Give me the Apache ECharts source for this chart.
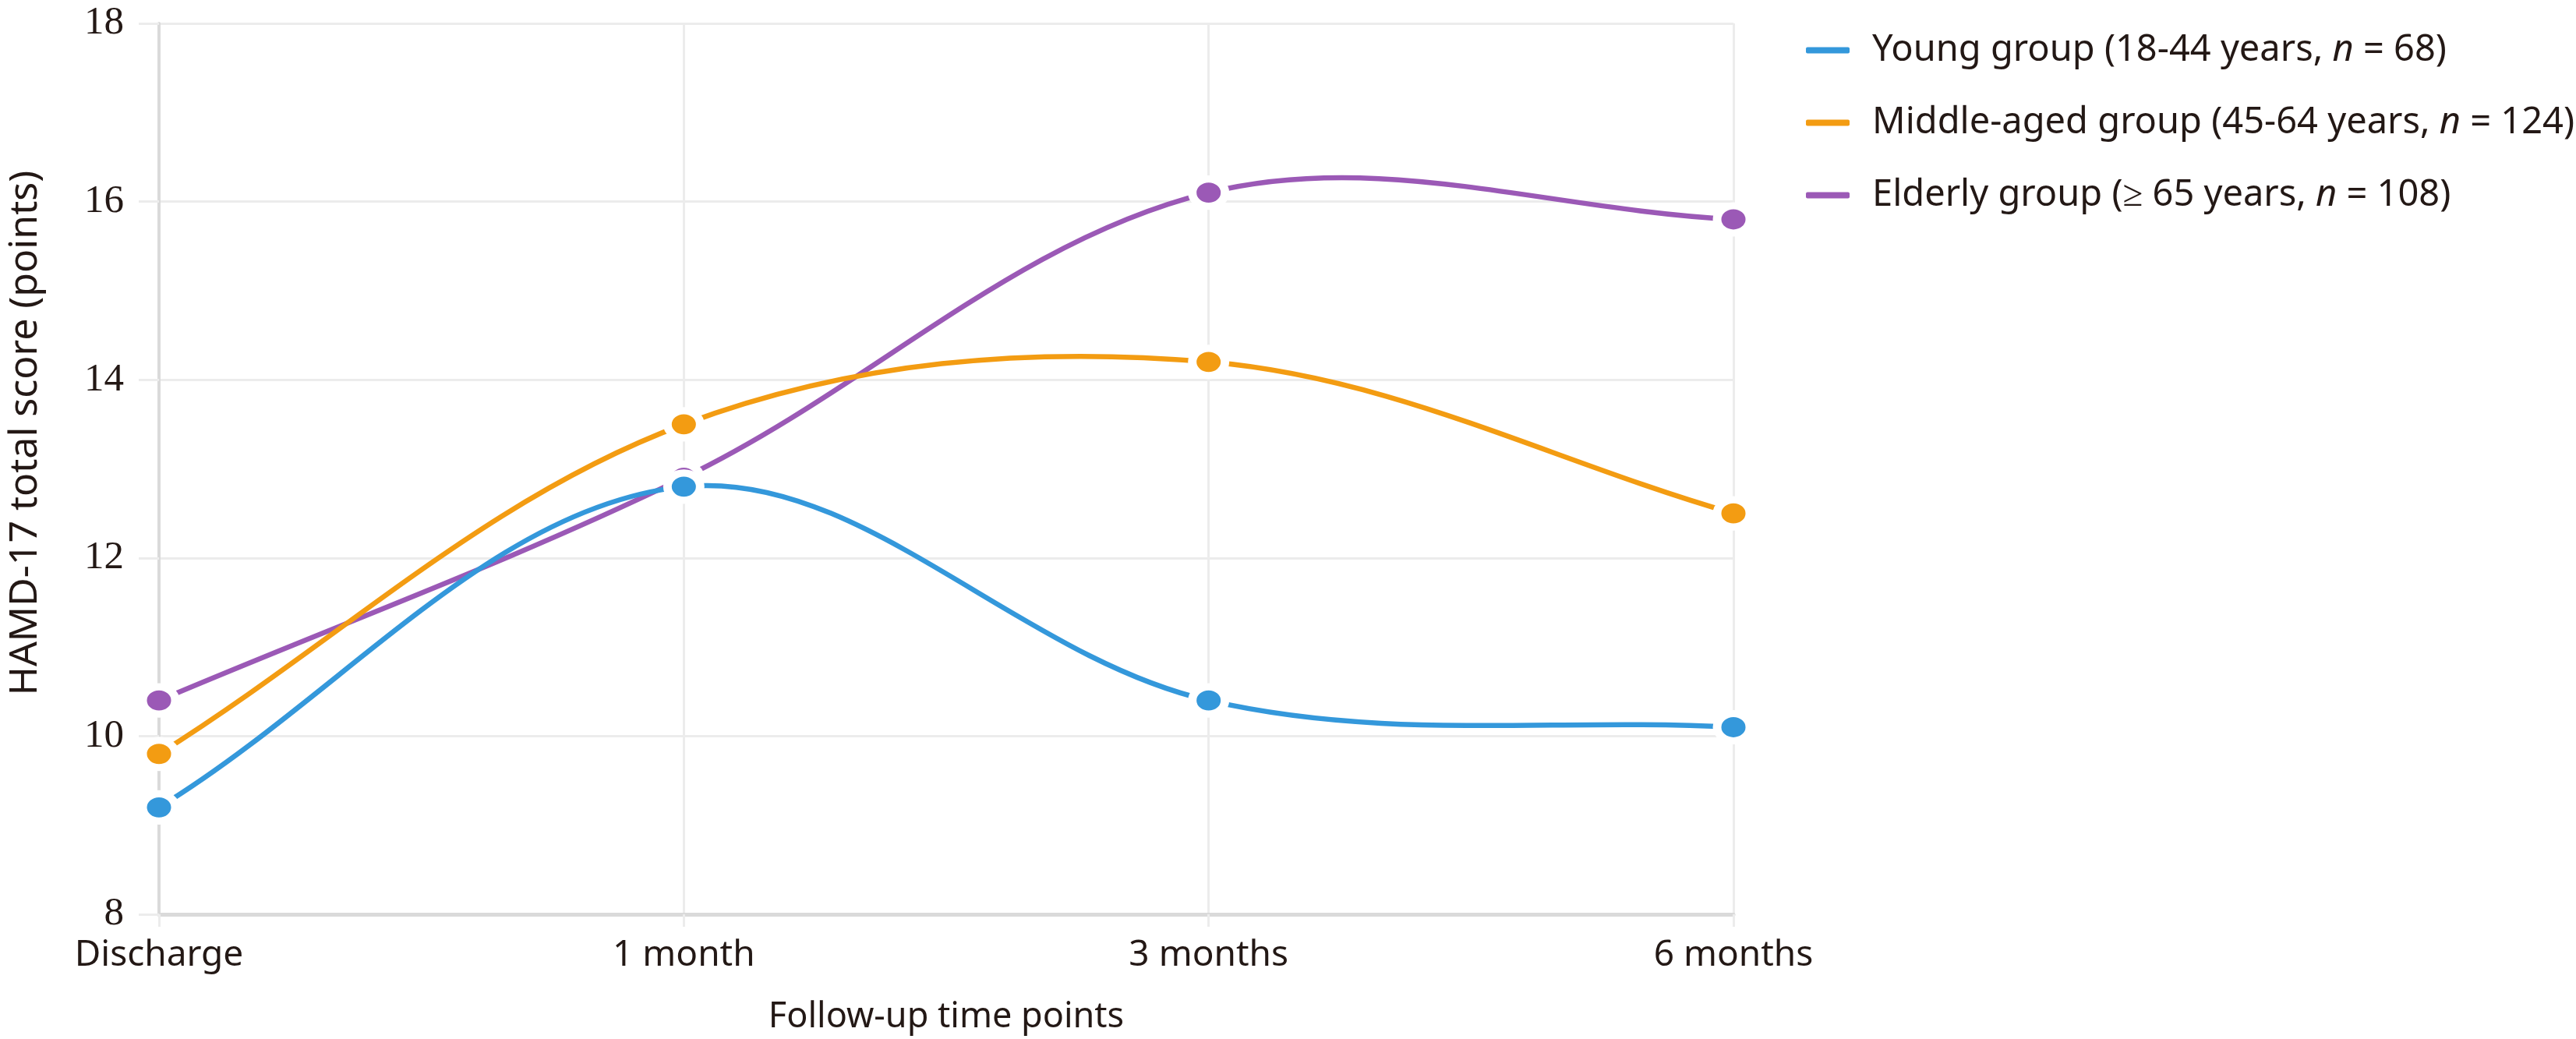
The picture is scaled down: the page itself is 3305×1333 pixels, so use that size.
<!DOCTYPE html>
<html>
<head>
<meta charset="utf-8">
<script src="https://cdn.jsdelivr.net/npm/echarts@6/dist/echarts.min.js"></script>
<style>
  html, body { margin: 0; padding: 0; background: #fff; }
  #chart { width: 3305px; height: 1333px; }
</style>
</head>
<body>
<div id="chart"></div>
<script>
var timePoints = ['Discharge', '1 month', '3 months', '6 months']
var yTicks = [8, 10, 12, 14, 16, 18]

var youngScores = [9.2, 12.8, 10.4, 10.1]
var middleScores = [9.8, 13.5, 14.2, 12.5]
var elderlyScores = [10.4, 12.9, 16.1, 15.8]

var groupNames = ['Young group', 'Middle-aged group', 'Elderly group']
var groupAges = ['18-44 years', '45-64 years', '≥ 65 years']
var groupSizes = [68, 124, 108]
var groupColors = ['#3498db', '#f39c12', '#9b59b6']
var groupScores = [youngScores, middleScores, elderlyScores]

var font = 'Noto Sans'
var tickFont = 'Liberation Serif'
var textColor = '#231815'
var gridColor = '#ececec'
var axisColor = '#dadada'
var tension = 0.35

var chart = echarts.init(document.getElementById('chart'))

// cardinal-style control points around p1 (same idea as chart.js splineCurve)
function controlPoints(p0, p1, p2) {
  var d01 = Math.hypot(p1[0] - p0[0], p1[1] - p0[1])
  var d12 = Math.hypot(p2[0] - p1[0], p2[1] - p1[1])
  var s01 = d01 / (d01 + d12) || 0
  var s12 = d12 / (d01 + d12) || 0
  var fa = tension * s01
  var fb = tension * s12
  return {
    prev: [p1[0] - fa * (p2[0] - p0[0]), p1[1] - fa * (p2[1] - p0[1])],
    next: [p1[0] + fb * (p2[0] - p0[0]), p1[1] + fb * (p2[1] - p0[1])]
  }
}

function curveSeries(i) {
  var values = groupScores[i]
  return {
    name: groupNames[i],
    type: 'custom',
    silent: true,
    z: 2,
    itemStyle: { color: groupColors[i] },
    data: values.map(function (v, k) { return [k, v] }),
    encode: { x: 0, y: 1 },
    renderItem: function (params, api) {
      var k = params.dataIndex
      if (k >= values.length - 1) return null
      var pt = function (j) {
        j = Math.max(0, Math.min(values.length - 1, j))
        return api.coord([j, values[j]])
      }
      var p0 = pt(k - 1), p1 = pt(k), p2 = pt(k + 1), p3 = pt(k + 2)
      var c1 = controlPoints(p0, p1, p2).next
      var c2 = controlPoints(p1, p2, p3).prev
      return {
        type: 'bezierCurve',
        shape: {
          x1: p1[0], y1: p1[1],
          cpx1: c1[0], cpy1: c1[1],
          cpx2: c2[0], cpy2: c2[1],
          x2: p2[0], y2: p2[1]
        },
        style: { stroke: groupColors[i], lineWidth: 6.5, fill: null, lineCap: 'round' }
      }
    }
  }
}

function pointSeries(i) {
  return {
    name: groupNames[i],
    type: 'line',
    data: groupScores[i],
    z: 3,
    symbol: 'circle',
    symbolSize: [42, 35],
    lineStyle: { width: 0, opacity: 0 },
    itemStyle: { color: groupColors[i], borderColor: '#fff', borderWidth: 10 },
    emphasis: { disabled: true }
  }
}

var option = {
  animation: false,
  backgroundColor: '#fff',
  grid: { left: 202, right: 1081, top: 30, bottom: 157 },
  legend: {
    orient: 'vertical',
    left: 2312,
    top: 36,
    itemWidth: 56,
    itemHeight: 8,
    itemGap: 46,
    icon: 'roundRect',
    data: groupNames,
    formatter: function (name) {
      var i = groupNames.indexOf(name)
      return '{a|' + name + ' (' + groupAges[i] + ', }{i|n}{b| = ' + groupSizes[i] + ')}'
    },
    textStyle: {
      rich: {
        a: { fontFamily: font, fontSize: 47, color: textColor, lineHeight: 56, padding: [0, 0, 0, 24] },
        i: { fontFamily: font, fontSize: 47, fontStyle: 'italic', color: textColor, lineHeight: 56 },
        b: { fontFamily: font, fontSize: 47, color: textColor, lineHeight: 56 }
      }
    }
  },
  xAxis: {
    type: 'category',
    data: timePoints,
    boundaryGap: false,
    name: 'Follow-up time points',
    nameLocation: 'middle',
    nameGap: 110,
    nameTextStyle: { fontFamily: font, fontSize: 45, color: textColor },
    axisLine: { lineStyle: { color: axisColor, width: 5 } },
    axisTick: { show: true, length: 16, lineStyle: { color: gridColor, width: 3 } },
    axisLabel: { fontFamily: font, fontSize: 46, color: textColor, margin: 30 },
    splitLine: { show: true, lineStyle: { color: gridColor, width: 3 } }
  },
  yAxis: {
    type: 'value',
    min: yTicks[0],
    max: yTicks[yTicks.length - 1],
    interval: 2,
    name: 'HAMD-17 total score (points)',
    nameLocation: 'middle',
    nameGap: 146,
    nameTextStyle: { fontFamily: font, fontSize: 50, color: textColor, padding: [0, 0, 0, 92] },
    axisLine: { show: true, lineStyle: { color: axisColor, width: 4 } },
    axisTick: { show: true, length: 26, lineStyle: { color: gridColor, width: 3 } },
    axisLabel: { fontFamily: tickFont, fontSize: 51, color: textColor, margin: 45 },
    splitLine: { show: true, lineStyle: { color: gridColor, width: 3 } }
  },
  series: [
    curveSeries(2), curveSeries(1), curveSeries(0),
    pointSeries(2), pointSeries(1), pointSeries(0)
  ]
}

chart.setOption(option)
</script>
</body>
</html>
